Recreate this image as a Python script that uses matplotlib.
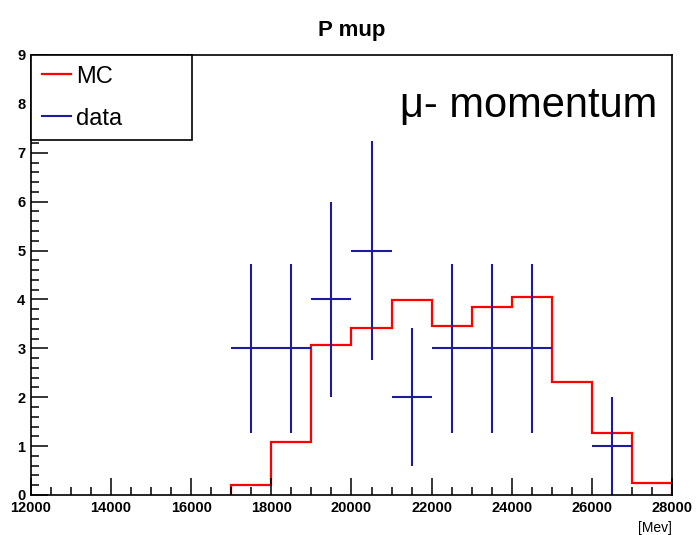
import numpy as np
import matplotlib
matplotlib.use("Agg")
import matplotlib.pyplot as plt
from matplotlib.ticker import MultipleLocator
from matplotlib.lines import Line2D

plt.rcParams["font.family"] = ["Liberation Sans", "DejaVu Sans"]

# MC histogram (bin edges in MeV, contents)
mc_edges = [17000, 18000, 19000, 20000, 21000, 22000, 23000, 24000, 25000, 26000, 27000, 28000]
mc_values = [0.20, 1.08, 3.06, 3.41, 3.99, 3.46, 3.84, 4.06, 2.32, 1.27, 0.25]

# data points (bin centres, counts, errors)
data_x = [17500, 18500, 19500, 20500, 21500, 22500, 23500, 24500, 26500]
data_y = [3, 3, 4, 5, 2, 3, 3, 3, 1]
data_err = [1.73, 1.73, 2.0, 2.24, 1.41, 1.73, 1.73, 1.73, 1.0]
bin_half = [500] * len(data_x)

red = "#ff0000"
blue = "#1c1c9c"

fig = plt.figure(figsize=(6.96, 5.35), dpi=100)
ax = fig.add_axes([0.0445, 0.0748, 0.921, 0.8224])

ax.stairs(mc_values, mc_edges, color=red, lw=1.6, baseline=0)
ax.errorbar(data_x, data_y, xerr=bin_half, yerr=data_err, fmt="none",
            ecolor=blue, elinewidth=1.5, capsize=0)

ax.set_xlim(12000, 28000)
ax.set_ylim(0, 9)
ax.xaxis.set_major_locator(MultipleLocator(2000))
ax.xaxis.set_minor_locator(MultipleLocator(500))
ax.yaxis.set_major_locator(MultipleLocator(1))
ax.yaxis.set_minor_locator(MultipleLocator(0.2))
ax.tick_params(which="both", direction="in", top=False, right=False, width=1.1, labelsize=10.5)
ax.tick_params(which="major", length=12, pad=4)
ax.tick_params(which="minor", length=5.8)
for lab in ax.get_xticklabels() + ax.get_yticklabels():
    lab.set_fontweight("bold")
for s in ax.spines.values():
    s.set_linewidth(1.2)

ax.set_title("P mup", fontsize=16, fontweight="bold", pad=14)

handles = [Line2D([], [], color=red, lw=1.6), Line2D([], [], color=blue, lw=1.5)]
leg = ax.legend(handles, ["MC", "data"], loc="upper left",
                bbox_to_anchor=(0, 0.811, 0.251, 0.189), mode="expand",
                borderaxespad=0, fontsize=17, handlelength=1.25, handletextpad=0.2,
                borderpad=0.45, labelspacing=0.85, fancybox=False, framealpha=1)
leg.get_frame().set_edgecolor("black")
leg.get_frame().set_linewidth(1.2)

ax.text(0.977, 0.86, "\u03bc- momentum", transform=ax.transAxes, ha="right",
        va="baseline", fontsize=30)
ax.text(1.0, -0.075, "[Mev]", transform=ax.transAxes, ha="right", va="center", fontsize=10)

plt.savefig("out.png", dpi=100)
